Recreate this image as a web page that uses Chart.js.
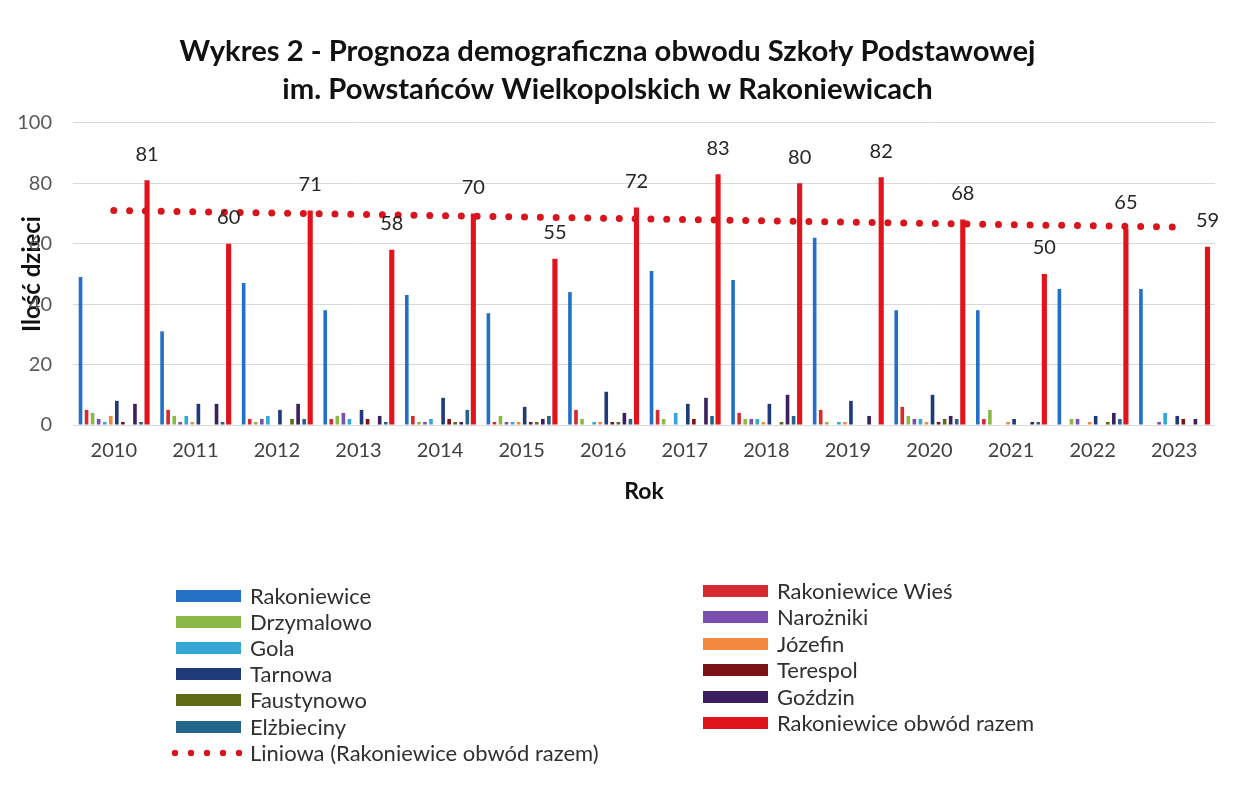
<!DOCTYPE html>
<html>
<head>
<meta charset="utf-8">
<script src="https://cdn.jsdelivr.net/npm/chart.js@4.4.1/dist/chart.umd.min.js"></script>
<style>
	body { margin: 0; background: #fff; }
	#wrap { position: relative; width: 1237px; height: 787px; }
	#legend { position: absolute; left: 0; top: 0; font-family: Lato, sans-serif; font-size: 22px; color: #303030; }
	.item { position: absolute; height: 24px; line-height: 24px; white-space: nowrap; }
	.sw { position: absolute; left: 0; top: 6px; width: 65px; height: 12px; }
	.tx { position: absolute; left: 74px; top: 0; }
</style>
</head>
<body>
<div id="wrap">
	<canvas id="mycanvas" width="1237" height="787" style="width:1237px;height:787px"></canvas>
	<div id="legend"></div>
</div>
<script>
// lata i wartości
var years = ['2010', '2011', '2012', '2013', '2014', '2015', '2016', '2017', '2018', '2019', '2020', '2021', '2022', '2023'];
var yTicks = [0, 20, 40, 60, 80, 100];

var rakoniewice = [49, 31, 47, 38, 43, 37, 44, 51, 48, 62, 38, 38, 45, 45];
var rakoniewiceWies = [5, 5, 2, 2, 3, 1, 5, 5, 4, 5, 6, 2, 0, 0];
var drzymalowo = [4, 3, 1, 3, 1, 3, 2, 2, 2, 1, 3, 5, 2, 0];
var narozniki = [2, 1, 2, 4, 1, 1, 0, 0, 2, 0, 2, 0, 2, 1];
var gola = [1, 3, 3, 2, 2, 1, 1, 4, 2, 1, 2, 0, 0, 4];
var jozefin = [3, 1, 0, 0, 0, 1, 1, 0, 1, 1, 1, 1, 1, 0];
var tarnowa = [8, 7, 5, 5, 9, 6, 11, 7, 7, 8, 10, 2, 3, 3];
var terespol = [1, 0, 0, 2, 2, 1, 1, 2, 0, 0, 1, 0, 0, 2];
var faustynowo = [0, 0, 2, 0, 1, 1, 1, 0, 1, 0, 2, 0, 1, 0];
var gozdzin = [7, 7, 7, 3, 1, 2, 4, 9, 10, 3, 3, 1, 4, 2];
var elzbieciny = [1, 1, 2, 1, 5, 3, 2, 3, 3, 0, 2, 1, 2, 0];
var razem = [81, 60, 71, 58, 70, 55, 72, 83, 80, 82, 68, 50, 65, 59];
// linia trendu: początek i koniec
var trend = [71, null, null, null, null, null, null, null, null, null, null, null, null, 65.5];

Chart.defaults.font.family = 'Lato';

function bars(label, data, color, pct) {
	return {
		label: label,
		data: data,
		backgroundColor: color,
		categoryPercentage: 0.89,
		barPercentage: pct || 0.6,
		order: 1
	};
}

var chartdata = {
	labels: years,
	datasets: [
		bars('Rakoniewice', rakoniewice, '#2470C6'),
		bars('Rakoniewice Wieś', rakoniewiceWies, '#D42A30'),
		bars('Drzymalowo', drzymalowo, '#8CB84A'),
		bars('Narożniki', narozniki, '#7A4FAE'),
		bars('Gola', gola, '#34A7D6'),
		bars('Józefin', jozefin, '#F2883D'),
		bars('Tarnowa', tarnowa, '#1E3A78'),
		bars('Terespol', terespol, '#7B1216'),
		bars('Faustynowo', faustynowo, '#5F6B16'),
		bars('Goździn', gozdzin, '#3C1F5E'),
		bars('Elżbieciny', elzbieciny, '#22658A'),
		bars('Rakoniewice obwód razem', razem, '#E3131B', 0.85),
		{
			type: 'line',
			label: 'Liniowa (Rakoniewice obwód razem)',
			data: trend,
			spanGaps: true,
			borderColor: '#D8141C',
			backgroundColor: '#D8141C',
			borderWidth: 7,
			borderDash: [0, 15.8],
			borderCapStyle: 'round',
			pointRadius: 0,
			fill: false,
			order: 0
		}
	]
};

var totalLabels = {
	id: 'totalLabels',
	afterDatasetsDraw: function(chart) {
		var ctx = chart.ctx;
		var meta = chart.getDatasetMeta(11);
		ctx.save();
		ctx.font = '20px Lato';
		ctx.fillStyle = '#262626';
		ctx.textAlign = 'center';
		ctx.textBaseline = 'middle';
		meta.data.forEach(function(bar, i) {
			ctx.fillText(String(razem[i]), bar.x, bar.y - 26);
		});
		ctx.restore();
	}
};

var ctx = document.getElementById('mycanvas');
var chart = new Chart(ctx, {
	type: 'bar',
	data: chartdata,
	plugins: [totalLabels],
	options: {
		responsive: false,
		animation: false,
		layout: { padding: { top: 0, left: 0, right: 22, bottom: 282 } },
		plugins: {
			legend: { display: false },
			tooltip: { enabled: false },
			title: {
				display: true,
				text: ['Wykres 2 - Prognoza demograficzna obwodu Szkoły Podstawowej', 'im. Powstańców Wielkopolskich w Rakoniewicach'],
				color: '#111',
				font: { family: 'Lato', size: 29.2, weight: 'bold', lineHeight: 1.3 },
				padding: { top: 33, bottom: 14 }
			}
		},
		scales: {
			x: {
				grid: { display: false },
				border: { display: false },
				ticks: { color: '#404040', font: { size: 20 }, padding: 6 },
				title: { display: true, text: 'Rok', color: '#111', font: { size: 23, weight: 'bold' }, padding: { top: 0, bottom: 0 } },
				afterFit: function(scale) { scale.height = 80; }
			},
			y: {
				min: 0,
				max: 100,
				afterBuildTicks: function(scale) {
					scale.ticks = yTicks.map(function(v) { return { value: v }; });
				},
				grid: { color: '#d9d9d9', drawTicks: false },
				border: { display: false },
				ticks: { color: '#595959', font: { size: 20 }, padding: 21 },
				title: { display: true, text: 'Ilość dzieci', color: '#111', font: { size: 24, weight: 'bold' }, padding: { top: 18 } },
				afterFit: function(scale) { scale.width = 73; }
			}
		}
	}
});

// legenda w dwóch kolumnach jak w oryginale
var legend = document.getElementById('legend');
chart.data.datasets.forEach(function(ds, i) {
	var col = i === 12 ? 0 : i % 2;
	var row = i === 12 ? 6 : Math.floor(i / 2);
	var left = col === 0 ? 176 : 703;
	var cy = col === 0 ? 596 + row * 26.1 : 591 + row * 26.4;
	var item = document.createElement('div');
	item.className = 'item';
	item.style.left = left + 'px';
	item.style.top = (cy - 12) + 'px';
	var sw = document.createElement('span');
	sw.className = 'sw';
	if (ds.type === 'line') {
		sw.style.left = '-9px';
		sw.style.top = '8px';
		sw.style.width = '80px';
		sw.style.height = '8px';
		sw.style.backgroundImage = 'radial-gradient(circle, ' + ds.borderColor + ' 3px, transparent 3.6px)';
		sw.style.backgroundSize = '16px 8px';
	} else {
		sw.style.background = ds.backgroundColor;
	}
	var tx = document.createElement('span');
	tx.className = 'tx';
	tx.textContent = ds.label;
	item.appendChild(sw);
	item.appendChild(tx);
	legend.appendChild(item);
});
</script>
</body>
</html>
